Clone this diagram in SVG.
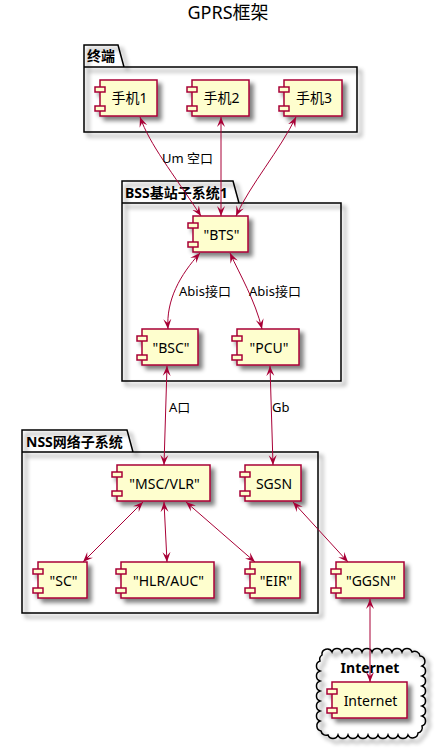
<svg xmlns="http://www.w3.org/2000/svg" width="437" height="749" viewBox="0 0 437 749">
<style>
text{font-family:"Noto Sans","Noto Sans CJK SC",sans-serif;fill:#000}
.title{font-size:18px;text-anchor:middle}
.pkg{fill:none;stroke:#000;stroke-width:1.5}
.plbl{font-size:14px;font-weight:bold}
.box{fill:#FEFECE;stroke:#A80036;stroke-width:1.5}
.clbl{font-size:14px;text-anchor:middle}
.edge{fill:none;stroke:#A80036;stroke-width:1;marker-start:url(#ah);marker-end:url(#ah)}
.elbl{font-size:13px}
</style>
<defs>
<filter id="sh" x="-20%" y="-20%" width="150%" height="150%">
<feGaussianBlur in="SourceAlpha" stdDeviation="2"/>
<feOffset dx="4" dy="4" result="b"/>
<feComponentTransfer><feFuncA type="linear" slope="0.5"/></feComponentTransfer>
<feMerge><feMergeNode/><feMergeNode in="SourceGraphic"/></feMerge>
</filter>
<marker id="ah" viewBox="0 0 10 10" refX="10" refY="5" markerWidth="10" markerHeight="10" markerUnits="userSpaceOnUse" orient="auto-start-reverse">
<path d="M0,1 L10,5 L0,9 L4,5 Z" fill="#A80036"/>
</marker>
</defs>
<rect width="437" height="749" fill="#fff"/>
<text class="title" x="228" y="19">GPRS框架</text>

<g id="pkg-terminal">
<path class="pkg" filter="url(#sh)" d="M84,45 L118,45 L124,67 L357,67 L357,132 L84,132 Z M84,67 L124,67"/>
<text class="plbl" x="87" y="61">终端</text>
</g>
<g id="pkg-bss">
<path class="pkg" filter="url(#sh)" d="M122,181 L233,181 L239,203 L341,203 L341,381 L122,381 Z M122,203 L239,203"/>
<text class="plbl" x="125" y="198">BSS基站子系统1</text>
</g>
<g id="pkg-nss">
<path class="pkg" filter="url(#sh)" d="M22,430 L127,430 L133,452 L318,452 L318,613 L22,613 Z M22,452 L133,452"/>
<text class="plbl" x="26" y="447">NSS网络子系统</text>
</g>
<g id="cloud-internet">
<path class="pkg" filter="url(#sh)" d="M322,655 A5.3,5.3 0 0 1 332,652 A5.3,5.3 0 0 1 342,652 A5.3,5.3 0 0 1 352,652 A5.3,5.3 0 0 1 362,652 A5.3,5.3 0 0 1 372,652 A5.3,5.3 0 0 1 382,652 A5.3,5.3 0 0 1 392,652 A5.3,5.3 0 0 1 402,652 A5.3,5.3 0 0 1 412,652 A5.3,5.3 0 0 1 420,656 A5.3,5.3 0 0 1 422,666 A5.3,5.3 0 0 1 422,676 A5.3,5.3 0 0 1 422,686 A5.3,5.3 0 0 1 422,696 A5.3,5.3 0 0 1 422,706 A5.3,5.3 0 0 1 422,716 A5.3,5.3 0 0 1 422,726 A5.3,5.3 0 0 1 418,733 A5.3,5.3 0 0 1 408,735 A5.3,5.3 0 0 1 398,735 A5.3,5.3 0 0 1 388,735 A5.3,5.3 0 0 1 378,735 A5.3,5.3 0 0 1 368,735 A5.3,5.3 0 0 1 358,735 A5.3,5.3 0 0 1 348,735 A5.3,5.3 0 0 1 338,735 A5.3,5.3 0 0 1 328,735 A5.3,5.3 0 0 1 321,731 A5.3,5.3 0 0 1 320,721 A5.3,5.3 0 0 1 320,711 A5.3,5.3 0 0 1 320,701 A5.3,5.3 0 0 1 320,691 A5.3,5.3 0 0 1 320,681 A5.3,5.3 0 0 1 320,671 A5.3,5.3 0 0 1 320,661 A5.3,5.3 0 0 1 322,655 Z"/>
<text class="plbl" x="370" y="673" text-anchor="middle">Internet</text>
</g>

<g id="phone1"><g filter="url(#sh)"><rect class="box" x="100" y="80" width="57" height="36"/><rect class="box" x="95" y="87" width="10" height="5"/><rect class="box" x="95" y="106" width="10" height="5"/></g><text class="clbl" x="129.5" y="103">手机1</text></g>
<g id="phone2"><g filter="url(#sh)"><rect class="box" x="192" y="80" width="57" height="36"/><rect class="box" x="187" y="87" width="10" height="5"/><rect class="box" x="187" y="106" width="10" height="5"/></g><text class="clbl" x="221.5" y="103">手机2</text></g>
<g id="phone3"><g filter="url(#sh)"><rect class="box" x="284" y="80" width="58" height="36"/><rect class="box" x="279" y="87" width="10" height="5"/><rect class="box" x="279" y="106" width="10" height="5"/></g><text class="clbl" x="314" y="103">手机3</text></g>
<g id="bts"><g filter="url(#sh)"><rect class="box" x="193" y="216" width="55" height="36"/><rect class="box" x="188" y="223" width="10" height="5"/><rect class="box" x="188" y="242" width="10" height="5"/></g><text class="clbl" x="221.5" y="240">"BTS"</text></g>
<g id="bsc"><g filter="url(#sh)"><rect class="box" x="142" y="329" width="56" height="36"/><rect class="box" x="137" y="336" width="10" height="5"/><rect class="box" x="137" y="355" width="10" height="5"/></g><text class="clbl" x="171" y="353">"BSC"</text></g>
<g id="pcu"><g filter="url(#sh)"><rect class="box" x="237" y="329" width="62" height="36"/><rect class="box" x="232" y="336" width="10" height="5"/><rect class="box" x="232" y="355" width="10" height="5"/></g><text class="clbl" x="269" y="353">"PCU"</text></g>
<g id="msc"><g filter="url(#sh)"><rect class="box" x="117" y="465" width="93" height="36"/><rect class="box" x="112" y="472" width="10" height="5"/><rect class="box" x="112" y="491" width="10" height="5"/></g><text class="clbl" x="164.5" y="489">"MSC/VLR"</text></g>
<g id="sgsn"><g filter="url(#sh)"><rect class="box" x="245" y="465" width="56" height="36"/><rect class="box" x="240" y="472" width="10" height="5"/><rect class="box" x="240" y="491" width="10" height="5"/></g><text class="clbl" x="274" y="489">SGSN</text></g>
<g id="sc"><g filter="url(#sh)"><rect class="box" x="38" y="562" width="49" height="36"/><rect class="box" x="33" y="569" width="10" height="5"/><rect class="box" x="33" y="588" width="10" height="5"/></g><text class="clbl" x="63.5" y="586">"SC"</text></g>
<g id="hlr"><g filter="url(#sh)"><rect class="box" x="121" y="562" width="93" height="36"/><rect class="box" x="116" y="569" width="10" height="5"/><rect class="box" x="116" y="588" width="10" height="5"/></g><text class="clbl" x="168.5" y="586">"HLR/AUC"</text></g>
<g id="eir"><g filter="url(#sh)"><rect class="box" x="250" y="562" width="50" height="36"/><rect class="box" x="245" y="569" width="10" height="5"/><rect class="box" x="245" y="588" width="10" height="5"/></g><text class="clbl" x="276" y="586">"EIR"</text></g>
<g id="ggsn"><g filter="url(#sh)"><rect class="box" x="336" y="562" width="68" height="36"/><rect class="box" x="331" y="569" width="10" height="5"/><rect class="box" x="331" y="588" width="10" height="5"/></g><text class="clbl" x="371" y="586">"GGSN"</text></g>
<g id="internet"><g filter="url(#sh)"><rect class="box" x="332" y="682" width="75" height="36"/><rect class="box" x="327" y="689" width="10" height="5"/><rect class="box" x="327" y="708" width="10" height="5"/></g><text class="clbl" x="370.5" y="706">Internet</text></g>

<g id="connectors">
<path class="edge" d="M140,117 C150,145 172,172 201,216"/>
<path class="edge" d="M221,117 L221,216"/>
<path class="edge" d="M296,117 C280,150 250,185 236,216"/>
<path class="edge" d="M200,253 C180,275 166,300 168,329"/>
<path class="edge" d="M230,253 C240,275 255,300 262,329"/>
<path class="edge" d="M167,366 L164,465"/>
<path class="edge" d="M270,366 L273,465"/>
<path class="edge" d="M143,502 L83,562"/>
<path class="edge" d="M164,502 L167,562"/>
<path class="edge" d="M186,502 L255,562"/>
<path class="edge" d="M293,502 L348,562"/>
<path class="edge" d="M370,599 L370,682"/>
<text class="elbl" x="162" y="163">Um 空口</text>
<text class="elbl" x="179" y="296">Abis接口</text>
<text class="elbl" x="249" y="296">Abis接口</text>
<text class="elbl" x="169" y="412">A口</text>
<text class="elbl" x="272" y="412">Gb</text>
</g>
</svg>
